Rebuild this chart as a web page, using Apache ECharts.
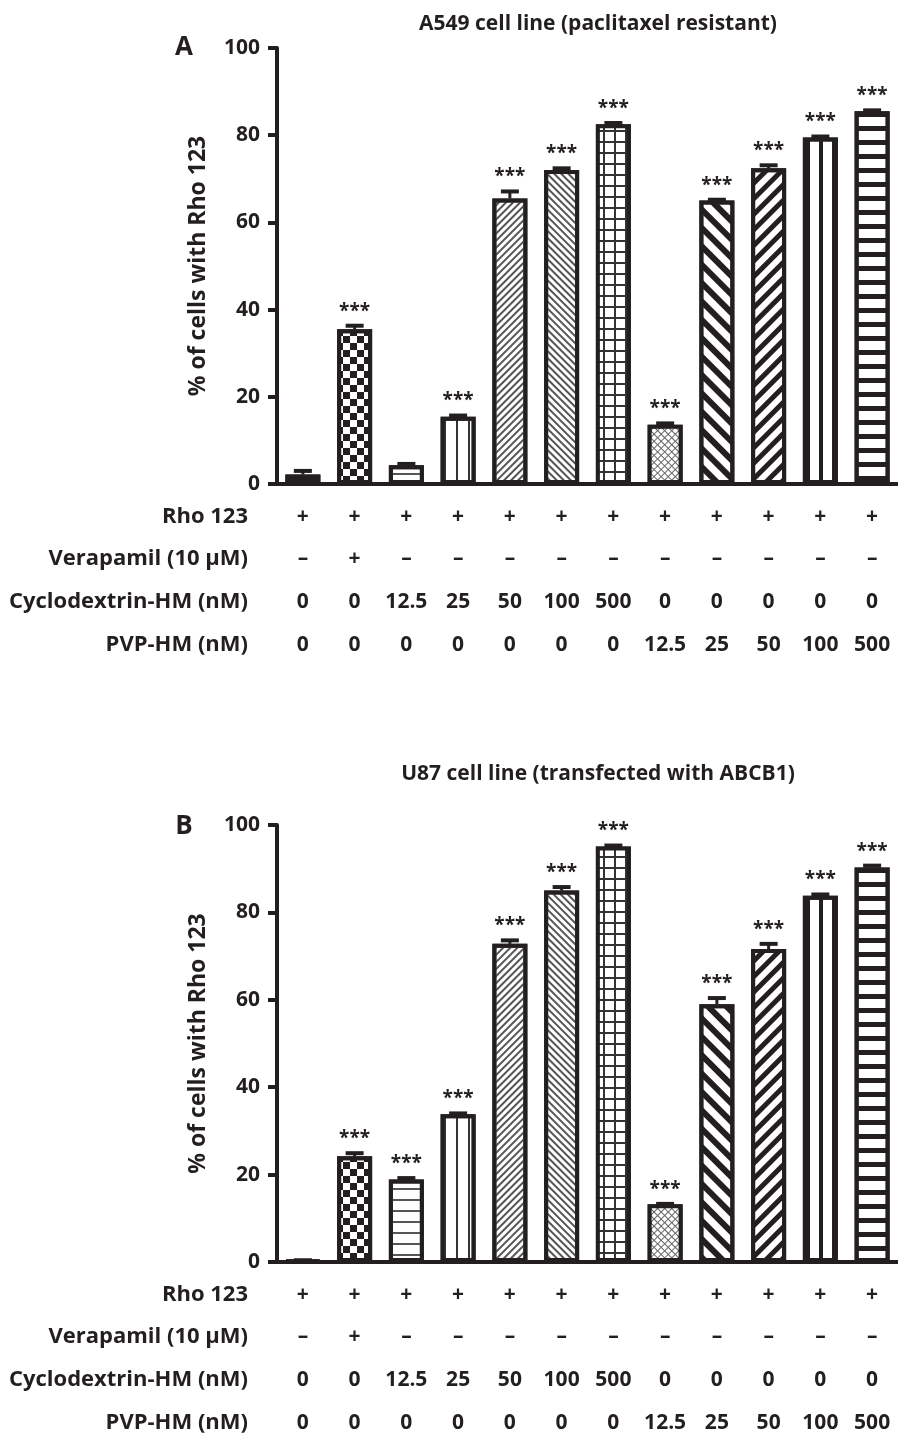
<!DOCTYPE html>
<html>
<head>
<meta charset="utf-8">
<script src="https://cdn.jsdelivr.net/npm/echarts@6/dist/echarts.min.js"></script>
<style>
  html, body { margin: 0; padding: 0; background: #fff; }
  #chart { width: 898px; height: 1434px; }
</style>
</head>
<body>
<div id="chart"></div>
<script>
// condition rows under each panel
const rho123 = ['+', '+', '+', '+', '+', '+', '+', '+', '+', '+', '+', '+'];
const verapamil = ['–', '+', '–', '–', '–', '–', '–', '–', '–', '–', '–', '–'];
const cyclodextrin = ['0', '0', '12.5', '25', '50', '100', '500', '0', '0', '0', '0', '0'];
const pvp = ['0', '0', '0', '0', '0', '0', '0', '12.5', '25', '50', '100', '500'];

// panel A: A549 (paclitaxel resistant)
const valuesA = [2.2, 35.5, 4.3, 15.4, 65.5, 72.0, 82.5, 13.6, 65.0, 72.4, 79.5, 85.5];
const errorsA = [0.8, 0.8, 0.3, 0.3, 1.6, 0.4, 0.3, 0.3, 0.2, 0.7, 0.2, 0.2];
const starsA = ['', '***', '', '***', '***', '***', '***', '***', '***', '***', '***', '***'];

// panel B: U87 (transfected with ABCB1)
const valuesB = [0.3, 24.2, 18.9, 33.8, 72.8, 85.0, 95.1, 13.2, 59.0, 71.6, 83.8, 90.3];
const errorsB = [0.1, 0.7, 0.3, 0.2, 0.8, 0.8, 0.2, 0.1, 1.4, 1.2, 0.3, 0.4];
const starsB = ['', '***', '***', '***', '***', '***', '***', '***', '***', '***', '***', '***'];

const yTicks = [0, 20, 40, 60, 80, 100];

const FONT = '"Open Sans", "Noto Sans", sans-serif';
const INK = '#231f20';

// fill pattern per bar (same order in both panels)
const fills = [
  { color: INK, decal: { color: '#fff', dashArrayX: [2, 2], dashArrayY: [2, 3] } },
  { color: '#fff', decal: { color: INK, dashArrayX: [[7, 7], [0, 7, 7, 0]], dashArrayY: [7, 0] } },
  { color: '#fff', decal: { color: '#555', dashArrayX: [1, 0], dashArrayY: [2, 9] } },
  { color: '#fff', decal: { color: '#333', dashArrayX: [2, 10], dashArrayY: [1, 0] } },
  { color: '#fff', decal: { color: '#555', dashArrayX: [1, 0], dashArrayY: [2, 3], rotation: -Math.PI / 4 } },
  { color: '#fff', decal: { color: '#555', dashArrayX: [1, 0], dashArrayY: [2, 3], rotation: Math.PI / 4 } },
  { color: '#333', decal: { color: '#fff', dashArrayX: [9, 2], dashArrayY: [9, 2] } },
  { color: '#666', decal: { color: '#fff', dashArrayX: [4, 1], dashArrayY: [4, 1], rotation: Math.PI / 4 } },
  { color: '#fff', decal: { color: INK, dashArrayX: [1, 0], dashArrayY: [6, 7], rotation: Math.PI / 4 } },
  { color: '#fff', decal: { color: INK, dashArrayX: [1, 0], dashArrayY: [5, 6], rotation: -Math.PI / 4 } },
  { color: '#fff', decal: { color: INK, dashArrayX: [4, 9], dashArrayY: [1, 0] } },
  { color: '#fff', decal: { color: INK, dashArrayX: [1, 0], dashArrayY: [5, 9] } }
];

const rows = [
  { name: 'Rho 123', data: rho123, offset: 33 },
  { name: 'Verapamil (10 μM)', data: verapamil, offset: 75 },
  { name: 'Cyclodextrin-HM (nM)', data: cyclodextrin, offset: 118 },
  { name: 'PVP-HM (nM)', data: pvp, offset: 161 }
];

const cats = rho123.map((d, i) => 'c' + i);

function panelAxes(gridIndex) {
  const axes = [{
    type: 'category',
    gridIndex: gridIndex,
    data: cats,
    axisLine: { onZero: false, lineStyle: { color: INK, width: 4 } },
    axisTick: { alignWithLabel: true, length: 12, lineStyle: { color: INK, width: 3 } },
    axisLabel: { show: false }
  }];
  rows.forEach((r) => {
    axes.push({
      type: 'category',
      gridIndex: gridIndex,
      position: 'bottom',
      offset: r.offset,
      data: r.data,
      name: r.name,
      nameLocation: 'start',
      nameGap: 29,
      nameTextStyle: { color: INK, fontFamily: FONT, fontWeight: 'bold', fontSize: 22, align: 'right', verticalAlign: 'middle' },
      axisLine: { show: false, onZero: false },
      axisTick: { show: false },
      axisLabel: { interval: 0, margin: 0, verticalAlign: 'middle', color: INK, fontFamily: FONT, fontWeight: 'bold', fontSize: 21 }
    });
  });
  return axes;
}

function yAxis(gridIndex) {
  return {
    type: 'value',
    gridIndex: gridIndex,
    min: 0,
    max: 100,
    interval: 20,
    name: '% of cells with Rho 123',
    nameLocation: 'middle',
    nameGap: 67,
    nameTextStyle: { color: INK, fontFamily: FONT, fontWeight: 'bold', fontSize: 23 },
    axisLine: { show: true, lineStyle: { color: INK, width: 4 } },
    axisTick: { show: true, length: 9, lineStyle: { color: INK, width: 4 } },
    splitLine: { show: false },
    axisLabel: {
      margin: 17, color: INK, fontFamily: FONT, fontWeight: 'bold', fontSize: 21,
      formatter: (v) => (yTicks.includes(v) ? String(v) : '')
    }
  };
}

function barSeries(values, xIdx, yIdx) {
  return {
    type: 'bar',
    xAxisIndex: xIdx,
    yAxisIndex: yIdx,
    barWidth: 35,
    data: values.map((v, i) => ({
      value: v,
      itemStyle: { color: fills[i].color, decal: Object.assign({ symbol: 'rect', symbolSize: 1, symbolKeepAspect: false }, fills[i].decal) }
    })),
    itemStyle: { borderColor: INK, borderWidth: 4 },
    emphasis: { disabled: true },
    z: 2
  };
}

function errorSeries(values, errors, stars, xIdx, yIdx) {
  return {
    type: 'custom',
    xAxisIndex: xIdx,
    yAxisIndex: yIdx,
    data: values.map((v, i) => [i, v, errors[i]]),
    z: 3,
    renderItem: function (params, api) {
      const base = api.coord([api.value(0), api.value(1)]);
      const top = api.coord([api.value(0), api.value(1) + api.value(2)]);
      const children = [
        { type: 'line', shape: { x1: base[0], y1: base[1], x2: base[0], y2: top[1] }, style: { stroke: INK, lineWidth: 3 } },
        { type: 'line', shape: { x1: base[0] - 9, y1: top[1], x2: base[0] + 9, y2: top[1] }, style: { stroke: INK, lineWidth: 4 } }
      ];
      const s = stars[params.dataIndex];
      if (s) {
        children.push({
          type: 'text', x: base[0], y: top[1] - 5,
          style: { text: s, textAlign: 'center', textVerticalAlign: 'bottom', fill: INK, font: 'bold 19px ' + FONT }
        });
      }
      return { type: 'group', children: children };
    }
  };
}

function label(text, x, y, size) {
  return {
    type: 'text', x: x, y: y,
    style: { text: text, textAlign: 'center', textVerticalAlign: 'middle', fill: INK, font: 'bold ' + size + 'px ' + FONT }
  };
}

const chart = echarts.init(document.getElementById('chart'), null, { renderer: 'canvas' });
chart.setOption({
  animation: false,
  backgroundColor: '#fff',
  grid: [
    { left: 277, top: 48, height: 436, right: 0 },
    { left: 277, top: 825, height: 438, right: 0 }
  ],
  xAxis: panelAxes(0).concat(panelAxes(1)),
  yAxis: [yAxis(0), yAxis(1)],
  graphic: [
    label('A549 cell line (paclitaxel resistant)', 598, 24, 21),
    label('U87 cell line (transfected with ABCB1)', 598, 774, 21),
    label('A', 184, 48, 26),
    label('B', 184, 827, 26)
  ],
  series: [
    barSeries(valuesA, 0, 0),
    errorSeries(valuesA, errorsA, starsA, 0, 0),
    barSeries(valuesB, 5, 1),
    errorSeries(valuesB, errorsB, starsB, 5, 1)
  ]
});
</script>
</body>
</html>
